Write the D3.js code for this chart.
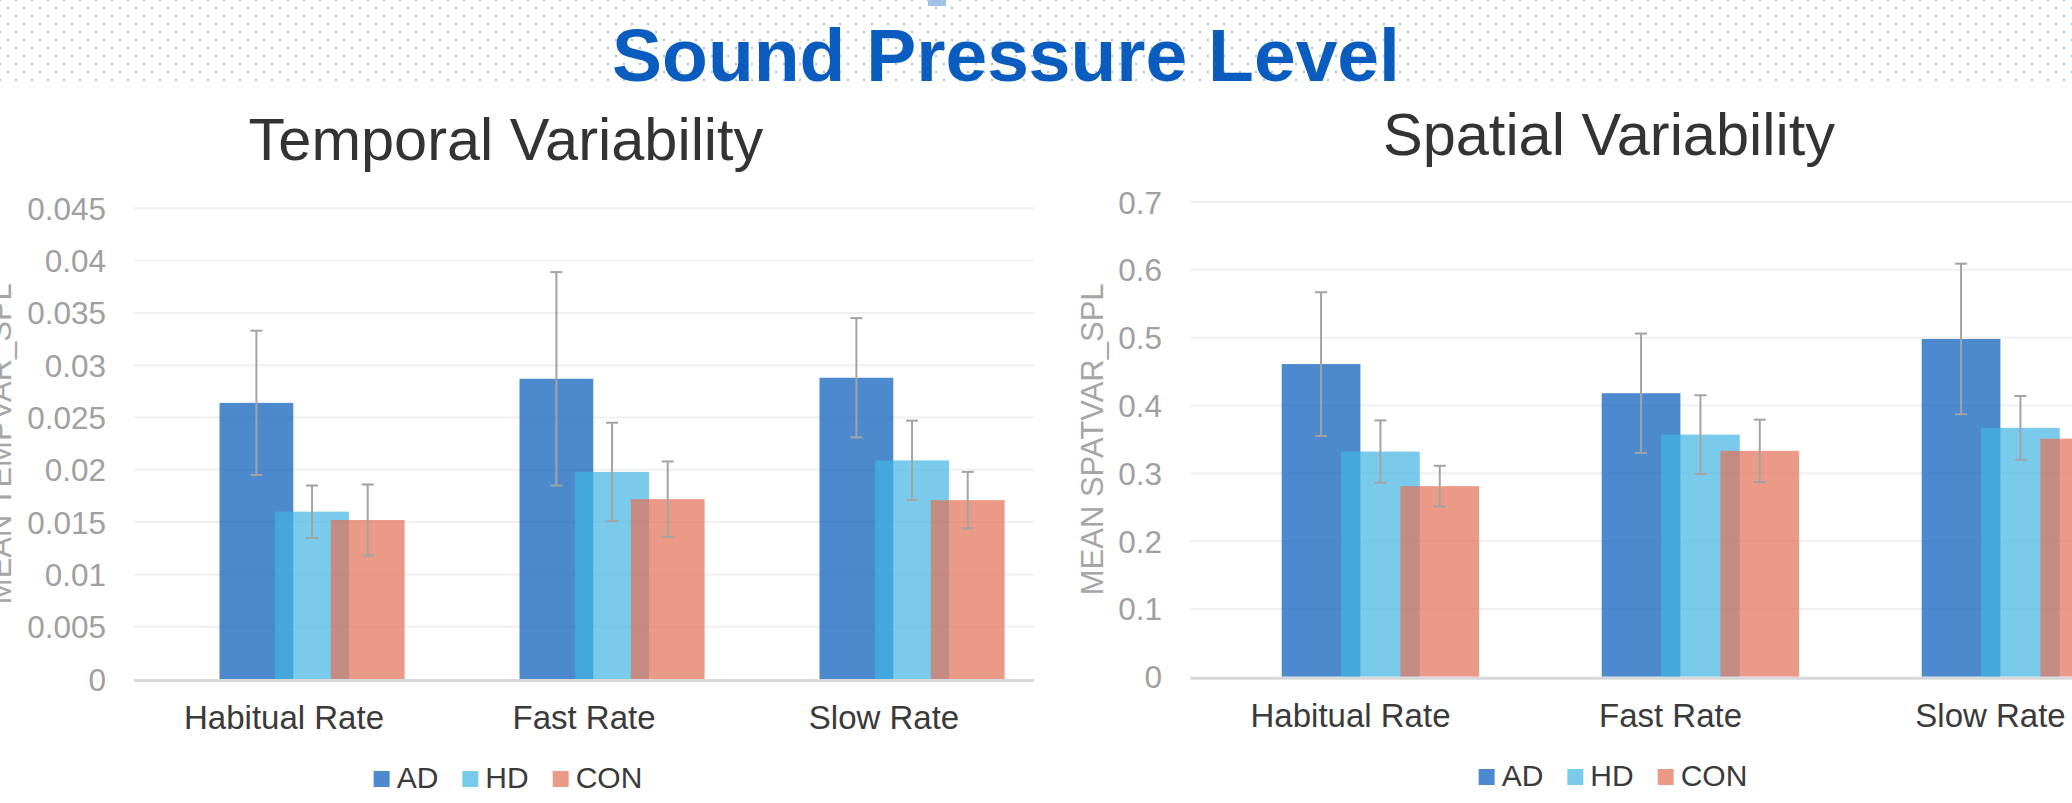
<!DOCTYPE html>
<html>
<head>
<meta charset="utf-8">
<script src="https://cdn.jsdelivr.net/npm/d3@7/dist/d3.min.js"></script>
<style>
  html, body { margin: 0; padding: 0; background: #fff; overflow: hidden; }
  svg { display: block; font-family: "Liberation Sans", Arial, sans-serif; }
</style>
</head>
<body>
<svg id="chart" width="2072" height="803"></svg>
<script>
// ---------- data ----------
const categories = ["Habitual Rate", "Fast Rate", "Slow Rate"];
const seriesNames = ["AD", "HD", "CON"];

const temporalAD  = [0.0264, 0.0287, 0.0288];
const temporalHD  = [0.0160, 0.0198, 0.0209];
const temporalCON = [0.0152, 0.0172, 0.0171];
const temporalErrAD  = [0.0069, 0.0102, 0.0057];
const temporalErrHD  = [0.0025, 0.0047, 0.0038];
const temporalErrCON = [0.0034, 0.0036, 0.0027];
const temporalTicks = [0, 0.005, 0.01, 0.015, 0.02, 0.025, 0.03, 0.035, 0.04, 0.045];

const spatialAD  = [0.461, 0.418, 0.498];
const spatialHD  = [0.332, 0.357, 0.367];
const spatialCON = [0.281, 0.333, 0.351];
const spatialErrAD  = [0.106, 0.088, 0.111];
const spatialErrHD  = [0.046, 0.058, 0.047];
const spatialErrCON = [0.030, 0.046, 0.030];
const spatialTicks = [0, 0.1, 0.2, 0.3, 0.4, 0.5, 0.6, 0.7];

const mainTitle = "Sound Pressure Level";

// ---------- style ----------
const colors = ["rgb(2,89,184)", "rgb(66,181,226)", "rgb(228,111,85)"];
const barOpacity = 0.7;
const tickColor = "#a0a0a0";
const textDark = "#3a3a3a";

const svg = d3.select("#chart");
const W = 2072, H = 803;

// dotted background band
const dots = svg.append("g").attr("fill", "#a4c2e8");
for (let r = 0; r <= 10; r++) {
  for (let x = (r % 2) * 8; x <= W + 16; x += 16) {
    dots.append("rect").attr("x", x - 1).attr("y", r * 8 - 1).attr("width", 2).attr("height", 2);
  }
}
svg.append("rect").attr("x", 928).attr("y", 0).attr("width", 18).attr("height", 6).attr("fill", "#a4c2e8");

svg.append("text")
  .attr("x", 1006).attr("y", 81)
  .attr("text-anchor", "middle")
  .attr("font-size", 75).attr("font-weight", "bold")
  .attr("fill", "#0a5cbe")
  .text(mainTitle);

function drawPanel(cfg) {
  const g = svg.append("g");
  const x = d3.scaleBand().domain(categories).range(cfg.xRange).paddingInner(0).paddingOuter(0);
  const y = d3.scaleLinear().domain(cfg.yDomain).range(cfg.yRange);
  const bw = x.bandwidth();
  const plotL = cfg.xRange[0], plotR = cfg.plotRight;

  // gridlines
  g.append("g").selectAll("line").data(cfg.ticks.slice(1)).join("line")
    .attr("x1", plotL).attr("x2", plotR)
    .attr("y1", d => y(d)).attr("y2", d => y(d))
    .attr("stroke", "#f0f0f0").attr("stroke-width", 2);

  // y axis tick labels through d3 axis
  const yAxis = d3.axisLeft(y).tickValues(cfg.ticks).tickSize(0).tickPadding(0)
    .tickFormat(d => String(+d.toFixed(4)));
  const ya = g.append("g").attr("transform", `translate(${cfg.tickRight},0)`).call(yAxis);
  ya.select(".domain").remove();
  ya.selectAll("text").attr("font-size", 31.5).attr("fill", tickColor)
    .attr("font-family", "'Liberation Sans', Arial, sans-serif").attr("dy", "0.35em");

  // y title
  g.append("text")
    .attr("transform", `translate(${cfg.yTitleX},${(cfg.yRange[0] + cfg.yRange[1]) / 2}) rotate(-90)`)
    .attr("text-anchor", "middle")
    .attr("font-size", 31).attr("fill", "#a6a6a6")
    .text(cfg.yTitle);

  // bars
  const series = [cfg.ad, cfg.hd, cfg.con];
  const errs = [cfg.errAd, cfg.errHd, cfg.errCon];
  const barW = 0.246 * bw;
  const off = i => bw * (0.5 - 0.215 + 0.1855 * i);
  series.forEach((vals, si) => {
    const sg = g.append("g");
    sg.selectAll("rect").data(vals).join("rect")
      .attr("x", (d, i) => x(categories[i]) + off(si))
      .attr("y", d => y(d))
      .attr("width", barW)
      .attr("height", d => y(0) - y(d))
      .attr("fill", colors[si]).attr("fill-opacity", barOpacity);
  });
  // error bars
  series.forEach((vals, si) => {
    const eg = g.append("g").attr("stroke", "#a3a3a3").attr("stroke-width", 2);
    vals.forEach((v, i) => {
      const cx = x(categories[i]) + off(si) + barW / 2;
      const e = errs[si][i];
      eg.append("line").attr("x1", cx).attr("x2", cx).attr("y1", y(v + e)).attr("y2", y(v - e));
      eg.append("line").attr("x1", cx - 6).attr("x2", cx + 6).attr("y1", y(v + e)).attr("y2", y(v + e));
      eg.append("line").attr("x1", cx - 6).attr("x2", cx + 6).attr("y1", y(v - e)).attr("y2", y(v - e));
    });
  });

  // baseline
  g.append("line").attr("x1", plotL).attr("x2", plotR)
    .attr("y1", y(0) + 1.5).attr("y2", y(0) + 1.5)
    .attr("stroke", "#d9d9d9").attr("stroke-width", 3);

  // category labels through axis
  const xAxis = d3.axisBottom(x).tickSize(0).tickPadding(0);
  const xa = g.append("g").attr("transform", `translate(0,${y(0) + cfg.catDy})`).call(xAxis);
  xa.select(".domain").remove();
  xa.selectAll("text").attr("font-size", 33).attr("fill", textDark)
    .attr("font-family", "'Liberation Sans', Arial, sans-serif").attr("dy", 0);

  // panel title
  g.append("text")
    .attr("x", cfg.titleX).attr("y", cfg.titleY)
    .attr("text-anchor", "middle")
    .attr("font-size", 59.5).attr("fill", "#333")
    .text(cfg.title);

  // legend
  const lg = g.append("g");
  let cursor = 0;
  seriesNames.forEach((name, i) => {
    const it = lg.append("g");
    it.append("rect").attr("x", 0).attr("y", -17).attr("width", 16).attr("height", 16)
      .attr("fill", colors[i]).attr("fill-opacity", barOpacity);
    const t = it.append("text").attr("x", 23).attr("y", 0).attr("font-size", 30).attr("fill", textDark).text(name);
    const tw = t.node().getComputedTextLength();
    it.attr("transform", `translate(${cursor},0)`);
    cursor += 23 + tw + 24;
  });
  const total = cursor - 24;
  lg.attr("transform", `translate(${cfg.legendCenter - total / 2},${cfg.legendY})`);
}

drawPanel({
  title: "Temporal Variability", titleX: 506, titleY: 160,
  yTitle: "MEAN TEMPVAR_SPL", yTitleX: 11,
  xRange: [134, 1034], plotRight: 1034,
  yDomain: [0, 0.045], yRange: [679, 208.3],
  ticks: temporalTicks, tickRight: 106,
  ad: temporalAD, hd: temporalHD, con: temporalCON,
  errAd: temporalErrAD, errHd: temporalErrHD, errCon: temporalErrCON,
  catDy: 50, legendCenter: 508, legendY: 788
});

drawPanel({
  title: "Spatial Variability", titleX: 1609, titleY: 155,
  yTitle: "MEAN SPATVAR_SPL", yTitleX: 1103,
  xRange: [1190.5, 2150.5], plotRight: 2150.5,
  yDomain: [0, 0.7], yRange: [676.7, 202],
  ticks: spatialTicks, tickRight: 1162,
  ad: spatialAD, hd: spatialHD, con: spatialCON,
  errAd: spatialErrAD, errHd: spatialErrHD, errCon: spatialErrCON,
  catDy: 50, legendCenter: 1613, legendY: 786
});
</script>
</body>
</html>
